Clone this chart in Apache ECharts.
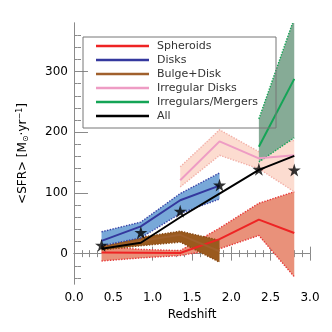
<!DOCTYPE html>
<html><head><meta charset="utf-8">
<script src="https://cdn.jsdelivr.net/npm/echarts@6/dist/echarts.min.js"></script>
<style>html,body{margin:0;padding:0;background:#fff}#c{width:332px;height:332px}</style>
</head><body><div id="c"></div>
<script>
// ---- data ----
const zAll = [0.35, 0.85, 1.35, 1.85, 2.35, 2.8];
const spheroids = [2, 1.5, 1, 24, 56, 34];
const spheroidsLo = [-12, -7, -3, 8, 30, -38];
const spheroidsHi = [12, 7, 5, 42, 83, 102];
const zDisk = [0.35, 0.85, 1.35, 1.85];
const disks = [21, 45, 88, 112];
const disksLo = [13, 26, 66, 90];
const disksHi = [36, 52, 99, 133];
const bulge = [9, 21, 31, 4];
const bulgeLo = [6, 13, 19, -14];
const bulgeHi = [12, 27, 37, 22];
const zIrr = [1.35, 1.85, 2.35, 2.8];
const irrDisks = [121, 185, 157, 162];
const irrDisksLo = [110, 162, 140, 102];
const irrDisksHi = [143, 204, 168, 187];
const zMerg = [2.35, 2.8];
const mergers = [176, 288];
const mergersLo = [151, 191];
const mergersHi = [222, 388];
const allSFR = [8, 18, 60, 99, 138, 161];
const stars = [14, 35, 70, 113, 139, 138];
const xTicks = [0, 0.5, 1, 1.5, 2, 2.5, 3];
const yTicks = [0, 100, 200, 300];
const names = ['Spheroids', 'Disks', 'Bulge+Disk', 'Irregular Disks', 'Irregulars/Mergers', 'All'];

const FONT = 'DejaVu Sans';
const frame = '#8a8a8a';
const yMin = -50, yMax = 380;
const yMinor = [];
for (let v = -40; v < yMax; v += 20) if (v % 100 !== 0) yMinor.push(v);
const xMinor = [];
for (let i = 1; i < 30; i++) if (i % 5 !== 0) xMinor.push(i / 10);
const MAJ = 7, MIN = 3.5;

function pairs(xs, ys) { return xs.map((x, i) => [x, ys[i]]); }

function band(xs, lo, hi, fill, edge, z) {
  return {
    type: 'custom', silent: true, z: z,
    data: [[xs[0], lo[0]]],
    encode: { x: 0, y: 1 },
    renderItem: function (params, api) {
      const up = xs.map((x, i) => api.coord([x, hi[i]]));
      const dn = xs.map((x, i) => api.coord([x, lo[i]]));
      const cs = params.coordSys;
      return {
        type: 'group',
        clipPath: { type: 'rect', shape: { x: cs.x, y: cs.y, width: cs.width, height: cs.height } },
        children: [
          { type: 'polygon', shape: { points: up.concat(dn.slice().reverse()) }, style: { fill: fill } },
          { type: 'polyline', shape: { points: up }, style: { stroke: edge, lineWidth: 1.4, lineDash: [1.4, 1.4], fill: null } },
          { type: 'polyline', shape: { points: dn }, style: { stroke: edge, lineWidth: 1.4, lineDash: [1.4, 1.4], fill: null } }
        ]
      };
    }
  };
}
function line(name, xs, ys, color) {
  return { name: name, type: 'line', data: pairs(xs, ys), showSymbol: false, symbol: 'none',
    lineStyle: { color: color, width: 2 }, itemStyle: { color: color }, z: 10, silent: true };
}

const colors = ['#ee2424', '#34389e', '#a0602c', '#ee9cc4', '#14a456', '#000000'];

function xMain(pos, labels) {
  return { type: 'value', position: pos, min: 0, max: 3, interval: 0.5,
    axisLine: { show: true, lineStyle: { color: frame, width: 1 } },
    axisTick: { show: false }, splitLine: { show: false },
    axisLabel: { show: labels, margin: 8, color: '#000', fontFamily: FONT, fontSize: 12, formatter: v => v.toFixed(1) },
    name: labels ? 'Redshift' : '', nameLocation: 'middle', nameGap: 25,
    nameTextStyle: { color: '#000', fontFamily: FONT, fontSize: 12 } };
}
function xTickAx(pos, vals, len) {
  return { type: 'value', position: pos, min: 0, max: 3, offset: -len,
    axisLine: { show: false }, splitLine: { show: false }, axisLabel: { show: false },
    axisTick: { show: true, inside: false, length: len, customValues: vals, lineStyle: { color: frame } } };
}
function yMain(pos, labels) {
  const o = { type: 'value', position: pos, min: yMin, max: yMax,
    axisLine: { show: true, lineStyle: { color: frame, width: 1 } },
    axisTick: { show: false }, splitLine: { show: false },
    axisLabel: { show: labels, customValues: yTicks, margin: 6, color: '#000', fontFamily: FONT, fontSize: 12 } };
  if (labels) {
    o.name = '<SFR> [M{sub|⊙}·yr{sup|−1}]';
    o.nameLocation = 'middle'; o.nameGap = 44; o.nameRotate = 90;
    o.nameTextStyle = { color: '#000', fontFamily: FONT, fontSize: 12,
      rich: { sub: { fontFamily: FONT, fontSize: 8, verticalAlign: 'bottom', padding: [6, 0, 0, 0] },
              sup: { fontFamily: FONT, fontSize: 8, verticalAlign: 'top', padding: [0, 0, 6, 0] } } };
  }
  return o;
}
function yTickAx(pos, vals, len) {
  return { type: 'value', position: pos, min: yMin, max: yMax, offset: -len,
    axisLine: { show: false }, splitLine: { show: false }, axisLabel: { show: false },
    axisTick: { show: true, inside: false, length: len, customValues: vals, lineStyle: { color: frame } } };
}

const chart = echarts.init(document.getElementById('c'), null, { renderer: 'canvas' });
chart.setOption({
  animation: false,
  grid: { left: 74, right: 22, top: 23, bottom: 48 },
  xAxis: [xMain('bottom', true), xTickAx('bottom', xTicks, MAJ), xTickAx('bottom', xMinor, MIN),
          xMain('top', false), xTickAx('top', xTicks, MAJ), xTickAx('top', xMinor, MIN)],
  yAxis: [yMain('left', true), yTickAx('left', yTicks, MAJ), yTickAx('left', yMinor, MIN),
          yMain('right', false), yTickAx('right', yTicks, MAJ), yTickAx('right', yMinor, MIN)],
  legend: { orient: 'vertical', left: 96, top: 39, padding: 0, itemGap: 0, icon: 'rect',
    itemWidth: 53, itemHeight: 2.5, data: names, selectedMode: false,
    textStyle: { fontFamily: FONT, fontSize: 11, color: '#333', lineHeight: 14, padding: [0, 0, 0, 3] } },
  graphic: [{ type: 'rect', shape: { x: 83, y: 37, width: 193, height: 91 }, z: 100,
    style: { fill: null, stroke: '#777', lineWidth: 1 } }],
  series: [
    band(zAll, spheroidsLo, spheroidsHi, '#e9917a', '#e83a3a', 1),
    band(zIrr, irrDisksLo, irrDisksHi, '#fcdcd0', '#f2b0a8', 2),
    band(zDisk, bulgeLo, bulgeHi, '#9a5a1e', '#8a4a14', 3),
    band(zDisk, disksLo, disksHi, '#78a8d8', '#3a44a8', 4),
    band(zMerg, mergersLo, mergersHi, '#86ab96', '#14a456', 5),
    line(names[0], zAll, spheroids, colors[0]),
    line(names[1], zDisk, disks, colors[1]),
    line(names[2], zDisk, bulge, colors[2]),
    line(names[3], zIrr, irrDisks, colors[3]),
    line(names[4], zMerg, mergers, colors[4]),
    line(names[5], zAll, allSFR, colors[5]),
    { type: 'scatter', data: pairs(zAll, stars), z: 12, silent: true,
      symbol: 'path://M50,0 L61,35 L98,35 L68,57 L79,91 L50,70 L21,91 L32,57 L2,35 L39,35 Z',
      symbolSize: 13, itemStyle: { color: '#000' } }
  ]
});
</script></body></html>
